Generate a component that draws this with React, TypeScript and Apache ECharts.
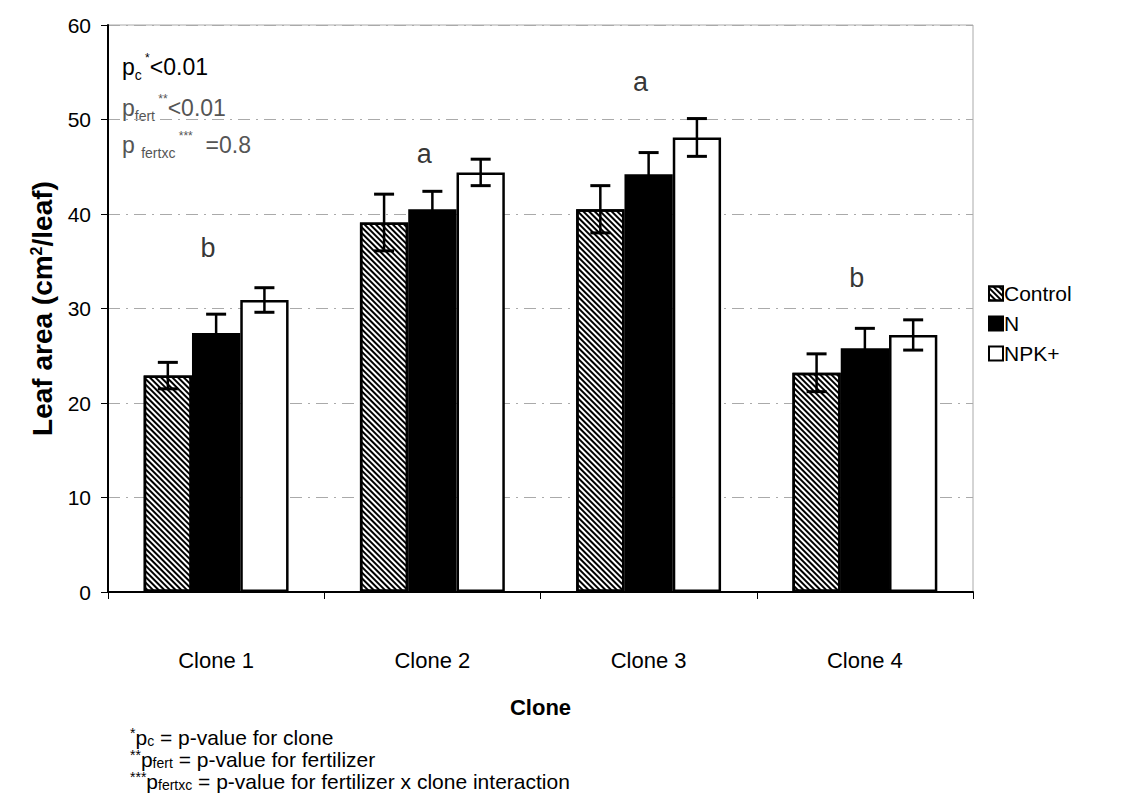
import React, { useEffect, useRef } from "react";
import * as echarts from "echarts";

const categories = ["Clone 1", "Clone 2", "Clone 3", "Clone 4"];
const seriesNames = ["Control", "N", "NPK+"];

const controlMeans = [22.9, 39.1, 40.5, 23.2];
const controlErr = [1.4, 3.0, 2.5, 2.0];
const nMeans = [27.4, 40.5, 44.2, 25.8];
const nErr = [2.0, 1.9, 2.3, 2.1];
const npkMeans = [30.9, 44.4, 48.1, 27.2];
const npkErr = [1.3, 1.4, 2.0, 1.6];

const groupLetters = ["b", "a", "a", "b"];
const letterLevels = [36.4, 46.4, 54.0, 33.2];

const yTicks = [0, 10, 20, 30, 40, 50, 60];

const FONT = "'Liberation Sans', Arial, sans-serif";
const CATEGORY_GAP = 0.33;

const hatch = {
  symbol: "rect",
  symbolSize: 1,
  color: "#000",
  backgroundColor: "#fff",
  dashArrayX: [1, 0],
  dashArrayY: [2, 2],
  rotation: Math.PI / 4,
};

function errorBarSeries(means: number[], errs: number[], slot: number) {
  return {
    type: "custom",
    z: 5,
    silent: true,
    data: means.map((m, i) => [i, m, errs[i]]),
    renderItem: (params: any, api: any) => {
      const idx = api.value(0);
      const mean = api.value(1);
      const err = api.value(2);
      const band = api.size([1, 0])[0];
      const barW = (band * (1 - CATEGORY_GAP)) / 3;
      const cx = api.coord([idx, 0])[0] + (slot - 1) * barW;
      const top = api.coord([idx, mean + err])[1];
      const bottom = api.coord([idx, mean - err])[1];
      const cap = 10;
      const capStyle = { stroke: "#000", lineWidth: 3 };
      return {
        type: "group",
        children: [
          { type: "line", shape: { x1: cx, y1: top, x2: cx, y2: bottom }, style: { stroke: "#000", lineWidth: 2.5 } },
          { type: "line", shape: { x1: cx - cap, y1: top, x2: cx + cap, y2: top }, style: capStyle },
          { type: "line", shape: { x1: cx - cap, y1: bottom, x2: cx + cap, y2: bottom }, style: capStyle },
        ],
      };
    },
  };
}

function pText(top: number, text: string, fill: string) {
  return {
    type: "text",
    left: 122,
    top,
    style: {
      text,
      fontFamily: FONT,
      fontSize: 23,
      fill,
      lineHeight: 30,
      rich: {
        sub: { fontFamily: FONT, fontSize: 14, verticalAlign: "bottom", lineHeight: 30, fill },
        sup: { fontFamily: FONT, fontSize: 12, verticalAlign: "top", lineHeight: 30, fill },
      },
    },
  };
}

export default function App() {
  const ref = useRef<HTMLDivElement>(null);

  useEffect(() => {
    document.body.style.margin = "0";
    const chart = echarts.init(ref.current!, null, { renderer: "svg" });

    const barBase = {
      type: "bar",
      barGap: "0%",
      barCategoryGap: `${CATEGORY_GAP * 100}%`,
    };

    chart.setOption({
      animation: false,
      backgroundColor: "#fff",
      grid: {
        left: 108,
        right: 150,
        top: 25,
        bottom: 205,
        show: true,
        borderColor: "#aaa",
        borderWidth: 1,
        backgroundColor: "#fff",
      },
      legend: {
        data: seriesNames,
        orient: "vertical",
        left: 983,
        top: 278,
        itemWidth: 14,
        itemHeight: 14,
        itemGap: 9,
        icon: "rect",
        textStyle: { fontFamily: FONT, fontSize: 21, color: "#000", padding: [0, 0, 0, -4] },
      },
      xAxis: {
        type: "category",
        data: categories,
        name: "Clone",
        nameLocation: "middle",
        nameGap: 104,
        nameTextStyle: { fontFamily: FONT, fontSize: 22, fontWeight: "bold", color: "#000" },
        axisLine: { lineStyle: { color: "#000", width: 2 } },
        axisTick: { show: true, length: 7, lineStyle: { color: "#000", width: 1 } },
        axisLabel: { fontFamily: FONT, fontSize: 22, color: "#000", margin: 57 },
      },
      yAxis: {
        type: "value",
        min: yTicks[0],
        max: yTicks[yTicks.length - 1],
        interval: 10,
        name: "Leaf area (cm{sup|2}/leaf)",
        nameLocation: "middle",
        nameGap: 38,
        nameTextStyle: {
          fontFamily: FONT,
          fontSize: 28,
          fontWeight: "bold",
          color: "#000",
          rich: {
            sup: { fontFamily: FONT, fontSize: 16, fontWeight: "bold", color: "#000", verticalAlign: "top", padding: [0, 0, 13, 0] },
          },
        },
        axisLine: { show: true, lineStyle: { color: "#000", width: 2 } },
        axisTick: { show: true, length: 7, lineStyle: { color: "#000", width: 1 } },
        axisLabel: { fontFamily: FONT, fontSize: 21, color: "#000", margin: 17 },
        splitLine: {
          show: true,
          lineStyle: { color: "#aaa", width: 1, type: [12, 6, 2, 6] },
        },
      },
      series: [
        {
          ...barBase,
          name: "Control",
          data: controlMeans,
          itemStyle: { color: "#fff", borderColor: "#000", borderWidth: 2.5, decal: hatch },
        },
        {
          ...barBase,
          name: "N",
          data: nMeans,
          itemStyle: { color: "#000", borderColor: "#000", borderWidth: 2.5 },
        },
        {
          ...barBase,
          name: "NPK+",
          data: npkMeans,
          itemStyle: { color: "#fff", borderColor: "#000", borderWidth: 2.5 },
        },
        errorBarSeries(controlMeans, controlErr, 0),
        errorBarSeries(nMeans, nErr, 1),
        errorBarSeries(npkMeans, npkErr, 2),
        {
          type: "scatter",
          name: "letters",
          symbolSize: 0,
          silent: true,
          data: letterLevels.map((v, i) => [i, v]),
          label: {
            show: true,
            position: "inside",
            formatter: (p: any) => groupLetters[p.dataIndex],
            fontFamily: FONT,
            fontSize: 27,
            color: "#000",
            offset: [-8, 0],
          },
        },
      ],
      graphic: [
        pText(52, "p{sub|c}{sup| *}<0.01", "#000"),
        pText(93, "p{sub|fert}{sup| **}<0.01", "#555"),
        pText(130, "p {sub|fertxc}{sup| ***}  =0.8", "#555"),
        {
          type: "text",
          left: 130,
          top: 726,
          style: {
            text: [
              "{sup|*}p{sub|c} = p-value for clone",
              "{sup|**}p{sub|fert} = p-value for fertilizer",
              "{sup|***}p{sub|fertxc} = p-value for fertilizer x clone interaction",
            ].join("\n"),
            fontFamily: FONT,
            fontSize: 21,
            fill: "#000",
            lineHeight: 22,
            rich: {
              sub: { fontFamily: FONT, fontSize: 14, verticalAlign: "bottom", lineHeight: 22, fill: "#000" },
              sup: { fontFamily: FONT, fontSize: 14, verticalAlign: "top", lineHeight: 22, fill: "#000" },
            },
          },
        },
      ],
    });

    return () => chart.dispose();
  }, []);

  return <div ref={ref} style={{ width: 1123, height: 797 }} />;
}
